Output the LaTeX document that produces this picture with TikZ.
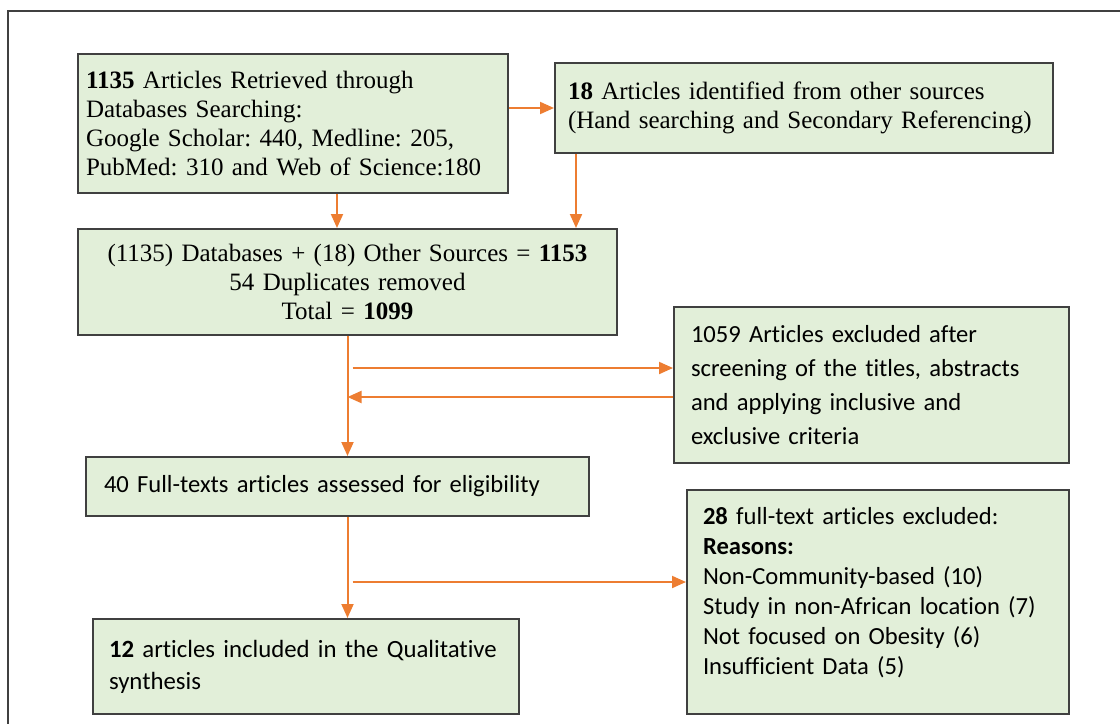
\documentclass[tikz,border=0pt]{standalone}
\usepackage{fontspec}
\setmainfont{Liberation Serif}
\newfontfamily\calib[Ligatures=NoCommon]{Carlito}
\usetikzlibrary{arrows.meta}
\definecolor{boxgreen}{HTML}{E2EFD9}
\definecolor{arrorange}{HTML}{ED7D31}
\definecolor{edgegray}{HTML}{404040}
\frenchspacing

\begin{document}
\begin{tikzpicture}[x=0.5pt, y=-0.5pt]
    \tikzstyle{box}=[draw=edgegray, fill=boxgreen, line width=1pt, inner ysep=0pt];
    \tikzstyle{serifbox}=[box, font=\fontsize{12.5}{14.5}\selectfont];
    \tikzstyle{sansbox}=[box, font=\calib\fontsize{12.3}{16}\selectfont];
    \tikzstyle{flow}=[draw=arrorange, line width=1pt, -{Triangle[length=7pt,width=6pt]}];

    \useasboundingbox (0,0) rectangle (1120,724);
    \draw[edgegray, line width=0.8pt] (1120,11) -| (8,724);

    % identification
    \node at (293, 123.5) [serifbox, minimum height=69.5pt, inner xsep=4pt, text width=207pt, align=left] (dbs)
        {\textbf{1135} Articles Retrieved through\\ Databases Searching:\\ Google Scholar: 440, Medline: 205,\\ PubMed: 310 and Web of Science:180};
    \node at (804, 108) [serifbox, minimum height=45pt, inner xsep=6.5pt, text width=236pt, align=left] (other)
        {\textbf{18} Articles identified from other sources\\ (Hand searching and Secondary Referencing)};
    \node at (347.5, 282) [serifbox, minimum height=53pt, inner xsep=4pt, text width=261.5pt, align=center] (merged)
        {(1135) Databases + (18) Other Sources = \textbf{1153}\\ 54 Duplicates removed\\ Total = \textbf{1099}};

    % screening
    \node at (871.5, 385) [sansbox, font=\calib\fontsize{12.3}{17}\selectfont, minimum height=78pt, inner xsep=8.5pt, text width=180.5pt, align=left] (excl)
        {1059 Articles excluded after\\ screening of the titles, abstracts\\ and applying inclusive and\\ exclusive criteria};
    \node at (337.5, 486.5) [sansbox, minimum height=29.5pt, inner xsep=9pt, text width=233.5pt, align=left] (full)
        {40 Full-texts articles assessed for eligibility};
    \node at (878, 602) [sansbox, font=\calib\fontsize{12.3}{15}\selectfont, minimum height=112pt, inner xsep=8pt, text width=175pt, align=left] (reasons)
        {\textbf{28} full-text articles excluded:\\ \textbf{Reasons:}\\ Non-Community-based (10)\\ Study in non-African location (7)\\ Not focused on Obesity (6)\\ Insufficient Data (5)\rule[-11pt]{0pt}{11pt}};
    \node at (306, 666.5) [sansbox, font=\calib\fontsize{12.4}{16}\selectfont, minimum height=47.5pt, inner xsep=8pt, text width=197pt, align=left] (incl)
        {\textbf{12} articles included in the Qualitative\\ synthesis};

    \coordinate (dbsOut) at ([xshift=22pt]dbs.south);
    \coordinate (othOut) at ([xshift=11pt]other.south west);
    \coordinate (scrOut) at ([yshift=8.5pt]excl.west);
    \coordinate (scrBack) at ([yshift=-6pt]excl.west);
    \coordinate (fullOut) at ([yshift=10pt]reasons.west);

    \draw[flow] (other.west -| dbs.east) -- (other.west);
    \draw[flow] (dbsOut) -- (dbsOut |- merged.north);
    \draw[flow] (othOut) -- (othOut |- merged.north);
    \draw[flow] (merged.south) -- (merged.south |- full.north);
    \draw[flow] (merged.south |- scrOut) ++(2.5pt,0) -- (scrOut);
    \draw[flow] (scrBack) -- (merged.south |- scrBack);
    \draw[flow] (merged.south |- full.south) -- (merged.south |- incl.north);
    \draw[flow] (merged.south |- fullOut) ++(2.5pt,0) -- (fullOut);
\end{tikzpicture}
\end{document}
